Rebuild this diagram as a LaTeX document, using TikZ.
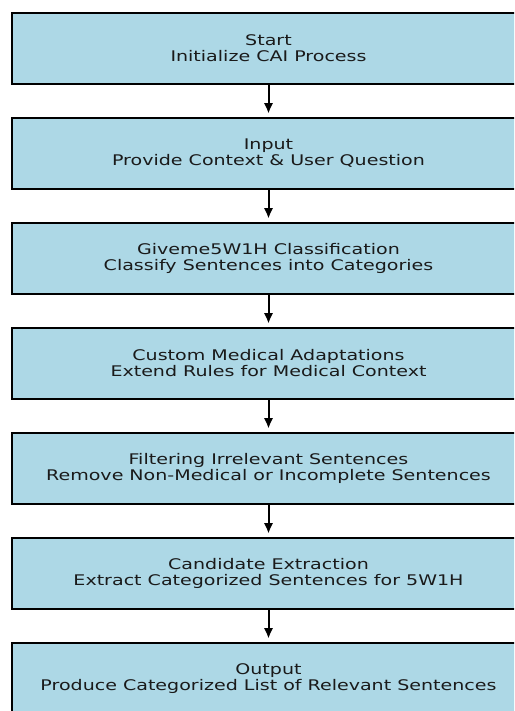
\documentclass[tikz,border=0pt]{standalone}
\usepackage{fontspec}
\setmainfont{DejaVu Sans}
\newfontfamily\stepfont{DejaVu Sans}[FakeStretch=1.30]
\usetikzlibrary{arrows.meta}
\definecolor{boxblue}{HTML}{ADD8E6}
\definecolor{boxtext}{HTML}{1A1A1A}
\tikzset{
  stepbox/.style={draw=black, line width=2pt, fill=boxblue, text=boxtext,
    minimum width=514pt, minimum height=70.5pt, inner sep=0pt,
    align=center, font=\stepfont\fontsize{14.65}{16}\selectfont},
  flowarrow/.style={line width=2pt, -{Latex[length=10.5pt,width=9.5pt]},
    shorten >=3.5pt}
}
\begin{document}
\begin{tikzpicture}[x=1pt,y=1pt]
  \useasboundingbox (0,0) rectangle (514,-711);
  \clip (0,0) rectangle (514,-711);
  \node[stepbox] (b1) at (268.5,-48.3) {Start\\Initialize CAI Process};
  \node[stepbox] (b2) at (268.5,-153.3) {Input\\Provide Context \& User Question};
  \node[stepbox] (b3) at (268.5,-258.3) {Giveme5W1H Classification\\Classify Sentences into Categories};
  \node[stepbox] (b4) at (268.5,-363.3) {Custom Medical Adaptations\\Extend Rules for Medical Context};
  \node[stepbox] (b5) at (268.5,-468.3) {Filtering Irrelevant Sentences\\Remove Non-Medical or Incomplete Sentences};
  \node[stepbox] (b6) at (268.5,-573.3) {Candidate Extraction\\Extract Categorized Sentences for 5W1H};
  \node[stepbox] (b7) at (268.5,-678.3) {Output\\Produce Categorized List of Relevant Sentences};
  \foreach \a/\b in {b1/b2,b2/b3,b3/b4,b4/b5,b5/b6,b6/b7}
    \draw[flowarrow] (\a.south) -- (\b.north);
\end{tikzpicture}
\end{document}
